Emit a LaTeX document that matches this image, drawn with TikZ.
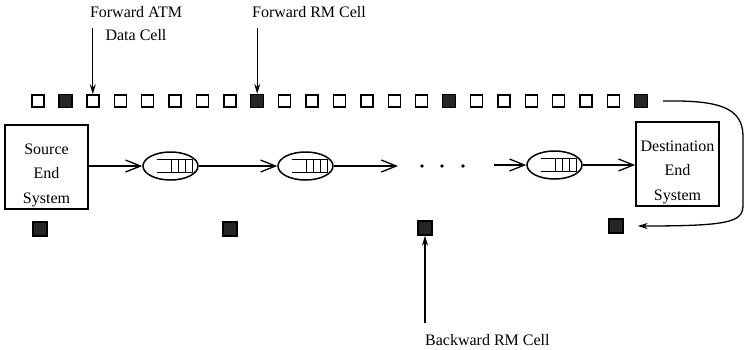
\documentclass[tikz,border=0pt]{standalone}
\usepackage{fontspec}
\setmainfont{Liberation Serif}
\usetikzlibrary{arrows.meta,shapes.geometric}

\begin{document}
\begin{tikzpicture}[x=1pt, y=-1pt,
	cell/.style={draw, line width=1.4pt, minimum size=12pt, inner sep=0pt},
	rmcell/.style={cell, fill=black!85, minimum size=13pt},
	endsys/.style={draw, line width=1.6pt, minimum width=83pt, minimum height=84pt,
		inner sep=1pt, align=center, text height=76pt, text depth=3.5pt,
		font=\fontsize{16}{24.5}\selectfont},
	queue/.style={draw, ellipse, line width=1.5pt, minimum width=55pt, minimum height=28pt, inner sep=0pt},
	link/.style={line width=1.3pt, -{Straight Barb[length=15pt,width=12pt,line width=1.3pt]}},
	pointer/.style={line width=1.3pt, -{Stealth[length=10pt,width=6pt]}},
	lbl/.style={font=\fontsize{16}{23}\selectfont, inner sep=1pt}]
	\useasboundingbox (0,0) rectangle (744,349);
	% forward cells
	\foreach \i in {0,...,22} {
		\pgfmathsetmacro\cx{38+27.4*\i}
		\ifnum\i=1 \def\kind{rmcell}\else\ifnum\i=8 \def\kind{rmcell}\else
		\ifnum\i=15 \def\kind{rmcell}\else\ifnum\i=22 \def\kind{rmcell}\else
		\def\kind{cell}\fi\fi\fi\fi
		\node[\kind] (c\i) at (\cx,101) {};
	}
	% backward cells
	\node[rmcell, minimum size=14pt] (b1) at (40,229) {};
	\node[rmcell, minimum size=14pt] (b2) at (230,229) {};
	\node[rmcell, minimum size=14pt] (b3) at (425,228) {};
	\node[rmcell, minimum size=14pt] (b4) at (616,226) {};
	% end systems and queues
	\node[endsys] (src) at (46.5,167) {Source\\End\\System};
	\node[endsys] (dst) at (677.5,164) {Destination\\End\\System};
	\node[queue] (q1) at (170.5,166) {};
	\node[queue] (q2) at (305.5,166) {};
	\node[queue] (q3) at (554.5,165) {};
	\foreach \q in {q1,q2,q3} {
		\begin{scope}[shift={(\q)}]
			\draw[line width=1.4pt] (-14,-6.5) -- (22,-6.5) (-14,6.5) -- (22,6.5);
			\foreach \v in {1,8,15,22}
				\draw[line width=1.4pt] (\v,-6.5) -- (\v,6.5);
		\end{scope}
	}
	% links
	\coordinate (gapin) at (398,166);
	\coordinate (gapout) at (494,165);
	\draw[link] (src.east |- q1) -- (q1.west);
	\draw[link] (q1.east) -- (q2.west);
	\draw[link] (q2.east) -- (gapin);
	\fill (422,166) circle (1.8pt) (442,166) circle (1.8pt) (463,166) circle (1.8pt);
	\draw[link] (gapout) -- (q3.west);
	\draw[link] (q3.east) -- (dst.west |- q3);
	% turn-around of the RM cells
	\coordinate (loopstart) at (663,101);
	\draw[pointer] (loopstart) .. controls (720,100) and (742,108) .. (743,135)
		-- (743,205) .. controls (743,222) and (730,226) .. ([xshift=14pt]b4.east);
	% labels
	\node[lbl, align=center] (lblatm) at (136,23.5) {Forward ATM\\Data Cell};
	\node[lbl] (lblfrm) at (309,12) {Forward RM Cell};
	\node[lbl, anchor=west] (lblbrm) at (424,340) {Backward RM Cell};
	\coordinate (atmtail) at (c2 |- 0,28);
	\coordinate (frmtail) at (c8 |- 0,28);
	\coordinate (brmtail) at (b3 |- 0,323);
	\draw[pointer] (atmtail) -- (c2.north);
	\draw[pointer] (frmtail) -- (c8.north);
	\draw[pointer] (brmtail) -- (b3.south);
\end{tikzpicture}
\end{document}
